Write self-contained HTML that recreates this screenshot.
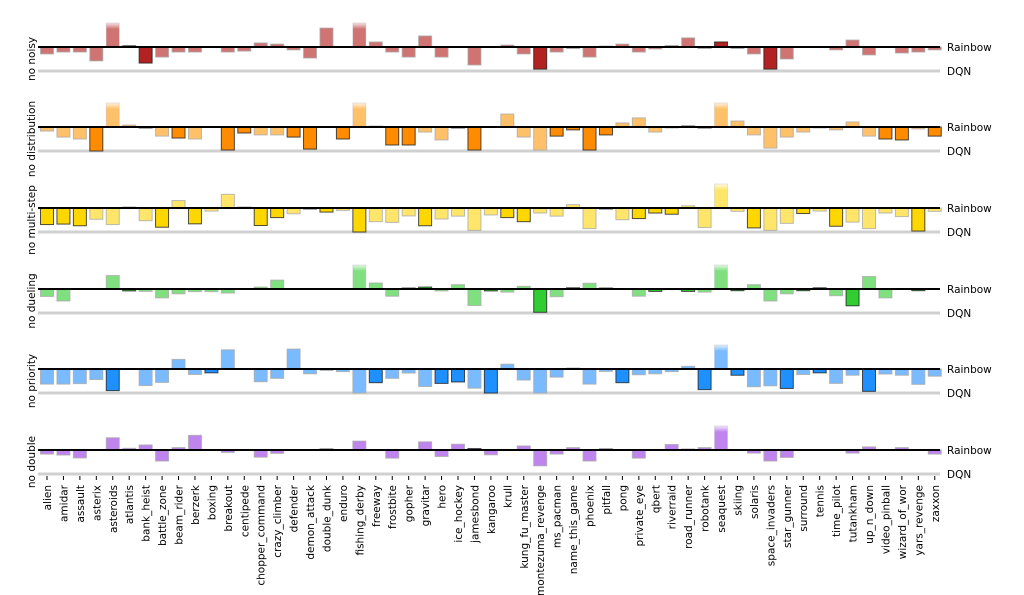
<!DOCTYPE html>
<html><head><meta charset="utf-8"><style>
body{margin:0;background:#fff;}
svg{display:block;font-family:"DejaVu Sans","Liberation Sans",sans-serif;}
</style></head><body>
<svg id="chart" width="1024" height="595"></svg>
<script>
const games=["alien","amidar","assault","asterix","asteroids","atlantis","bank_heist","battle_zone","beam_rider","berzerk","boxing","breakout","centipede","chopper_command","crazy_climber","defender","demon_attack","double_dunk","enduro","fishing_derby","freeway","frostbite","gopher","gravitar","hero","ice_hockey","jamesbond","kangaroo","krull","kung_fu_master","montezuma_revenge","ms_pacman","name_this_game","phoenix","pitfall","pong","private_eye","qbert","riverraid","road_runner","robotank","seaquest","skiing","solaris","space_invaders","star_gunner","surround","tennis","time_pilot","tutankham","up_n_down","video_pinball","wizard_of_wor","yars_revenge","zaxxon"];
const rowNames=["no noisy","no distribution","no multi-step","no dueling","no priority","no double"];
const noNoisy=[-0.29,-0.21,-0.21,-0.58,1,0.05,-0.67,-0.42,-0.21,-0.21,0,-0.21,-0.17,0.17,0.12,-0.12,-0.46,0.79,0,1,0.21,-0.21,-0.42,0.46,-0.42,0,-0.75,0,0.08,-0.29,-0.92,-0.21,-0.04,-0.42,0.04,0.12,-0.21,-0.08,0.04,0.38,-0.04,0.21,-0.04,-0.29,-0.92,-0.5,0,0,-0.12,0.29,-0.33,0,-0.25,-0.21,-0.12];
const noNoisyDark=[0,0,0,0,0,1,1,0,0,0,0,0,0,0,0,0,0,0,0,0,0,0,0,0,0,1,0,0,0,0,1,0,1,0,0,0,0,0,1,0,1,1,1,0,1,0,0,0,0,0,0,0,0,0,0];
const noDist=[-0.17,-0.42,-0.5,-1,1,0.08,-0.04,-0.38,-0.46,-0.5,0,-0.96,-0.25,-0.33,-0.33,-0.42,-0.92,0,-0.5,1,0.04,-0.75,-0.75,-0.21,-0.54,-0.04,-0.96,0,0.54,-0.42,-0.96,-0.38,-0.12,-0.96,-0.33,0.17,0.38,-0.21,-0.04,0.04,-0.04,1,0.25,-0.33,-0.88,-0.42,-0.21,-0.04,-0.12,0.21,-0.38,-0.5,-0.54,-0.08,-0.38];
const noDistDark=[0,0,0,1,0,0,1,0,1,0,0,1,1,0,0,1,1,0,1,0,0,1,1,0,0,1,1,0,0,0,0,1,1,1,1,0,0,0,0,1,1,0,0,0,0,0,0,0,0,0,0,1,1,0,1];
const noMulti=[-0.69,-0.67,-0.74,-0.47,-0.69,0.03,-0.53,-0.8,0.31,-0.66,-0.13,0.57,0.03,-0.73,-0.4,-0.24,-0.04,-0.17,-0.1,-1,-0.57,-0.6,-0.33,-0.74,-0.46,-0.34,-0.93,-0.29,-0.4,-0.57,-0.21,-0.34,0.14,-0.86,-0.04,-0.49,-0.44,-0.21,-0.26,0.09,-0.81,1,-0.14,-0.83,-0.93,-0.64,-0.23,-0.13,-0.76,-0.59,-0.86,-0.21,-0.36,-0.96,-0.14];
const noMultiDark=[1,1,1,0,0,1,0,1,0,1,0,0,1,1,1,0,1,1,0,1,0,0,0,1,0,0,0,0,1,1,0,0,0,0,1,0,1,1,1,0,0,0,0,1,0,0,1,0,1,0,0,0,0,1,0];
const noDuel=[-0.31,-0.5,0,0,0.56,-0.08,-0.1,-0.37,-0.2,-0.11,-0.11,-0.17,0,0.08,0.37,0,0,0,0,1,0.25,-0.3,0.04,0.08,-0.08,0.18,-0.69,-0.08,-0.13,0.11,-0.97,-0.32,0.05,0.24,0.04,0,-0.3,-0.1,0,-0.1,-0.13,1,-0.07,0.18,-0.5,-0.2,-0.07,0.05,-0.28,-0.7,0.52,-0.37,0,-0.07,0];
const noDuelDark=[0,0,0,0,0,1,0,0,0,0,0,0,0,0,0,0,0,0,0,0,0,0,1,1,0,0,0,1,0,0,1,0,1,0,1,0,0,1,0,1,0,0,1,0,0,0,1,1,0,1,0,0,0,1,0];
const noPrio=[-0.63,-0.63,-0.61,-0.44,-0.9,0,-0.69,-0.56,0.4,-0.23,-0.16,0.8,0,-0.53,-0.39,0.83,-0.2,-0.06,-0.11,-1,-0.57,-0.39,-0.17,-0.73,-0.6,-0.54,-0.8,-1,0.2,-0.46,-1,-0.34,0.04,-0.63,-0.1,-0.57,-0.24,-0.2,-0.11,0.11,-0.86,1,-0.26,-0.74,-0.7,-0.81,-0.23,-0.16,-0.6,-0.26,-0.93,-0.21,-0.26,-0.64,-0.3];
const noPrioDark=[0,0,0,0,1,0,0,0,0,0,1,0,0,0,0,0,0,0,0,0,1,0,0,0,1,1,0,1,0,0,0,0,0,0,0,1,0,0,0,0,1,0,1,0,0,1,0,1,0,0,1,0,0,0,0];
const noDouble=[-0.17,-0.21,-0.33,0,0.51,0.07,0.21,-0.46,0.1,0.61,0,-0.1,0,-0.3,-0.14,0,0,0.04,0,0.37,0,-0.34,0,0.34,-0.27,0.24,0.06,-0.2,0,0.17,-0.66,-0.17,0.1,-0.46,0.04,0,-0.34,0,0.23,0.03,0.1,1,0,-0.13,-0.46,-0.31,0,0,0,-0.13,0.13,0,0.1,0,-0.17];
const noDoubleDark=[0,0,0,0,0,0,0,0,0,0,0,0,0,0,0,0,0,1,0,0,0,0,0,0,0,0,1,0,0,0,0,0,0,0,1,0,0,0,0,1,0,0,0,0,0,0,0,0,0,0,0,0,0,0,0];

const rows=[[noNoisy,noNoisyDark],[noDist,noDistDark],[noMulti,noMultiDark],[noDuel,noDuelDark],[noPrio,noPrioDark],[noDouble,noDoubleDark]];
const lightC=["#d07373","#ffc06a","#ffe56a","#80e080","#7abaff","#c084ee"];
const darkC=["#b22222","#ff8c00","#ffd700","#32cd32","#1e90ff","#a96ee6"];
const baseY=[47,127,208,289,369,450];
const gap=24, x0=47, dx=16.44, bw=13, left=38, right=940;
const NS="http://www.w3.org/2000/svg";
const svg=document.getElementById('chart');
function xs(i){return x0+i*dx;}
function ys(r,v){return baseY[r]-Math.max(-1,Math.min(1,v))*gap;}
function mk(tag,attrs,parent){const e=document.createElementNS(NS,tag);for(const k in attrs)e.setAttribute(k,attrs[k]);(parent||svg).appendChild(e);return e;}
const defs=mk('defs',{});
rows.forEach((row,r)=>{
  const g=mk('linearGradient',{id:'fade'+r,x1:0,y1:0,x2:0,y2:1},defs);
  mk('stop',{offset:'0',"stop-color":lightC[r],"stop-opacity":'0.2'},g);
  mk('stop',{offset:'0.25',"stop-color":lightC[r],"stop-opacity":'1'},g);
  mk('stop',{offset:'1',"stop-color":lightC[r],"stop-opacity":'1'},g);
});
rows.forEach((row,r)=>{
  const grp=mk('g',{});
  
  
  const dq=mk('line',{x1:left,x2:right,y1:baseY[r]+gap,y2:baseY[r]+gap,stroke:'#d0d0d0','stroke-width':3},grp);
  
  
  const vals=row[0], dark=row[1];
  vals.forEach((v,i)=>{
    if(v===0)return;
    const y1=ys(r,v), y0=baseY[r];
    const top=Math.min(y0,y1), h=Math.abs(y1-y0);
    const clip=v>=1;
    const b=mk('rect',{x:xs(i)-bw/2,y:top,width:bw,height:h,
      fill:clip?('url(#fade'+r+')'):(dark[i]?darkC[r]:lightC[r]),
      stroke:dark[i]?'#222':'#aaa','stroke-width':1,'stroke-opacity':clip?0.3:0.8},grp);
    
    
  });
  const rl=mk('line',{x1:left,x2:right,y1:baseY[r],y2:baseY[r],stroke:'#000','stroke-width':2},grp);
  
  
  const t1=mk('text',{x:947,y:baseY[r]+4,'font-size':10.5,fill:'#000'},grp);t1.textContent='Rainbow';
  
  
  const t2=mk('text',{x:947,y:baseY[r]+gap+4,'font-size':10.5,fill:'#000'},grp);t2.textContent='DQN';
  
  
  const cy=baseY[r]+12;
  const t3=mk('text',{x:0,y:0,'font-size':10.5,'text-anchor':'middle',transform:'translate(35,'+cy+') rotate(-90)'},grp);t3.textContent=rowNames[r];
  
  
});
games.forEach((gname,i)=>{
  const tk=mk('line',{x1:xs(i),x2:xs(i),y1:476,y2:480,stroke:'#000','stroke-width':1});
  
  
  const t=mk('text',{x:0,y:0,'font-size':10.5,'text-anchor':'end',transform:'translate('+(xs(i)+4)+',485) rotate(-90)'});
  t.textContent=gname;
  
  
});
</script>
</body></html>
